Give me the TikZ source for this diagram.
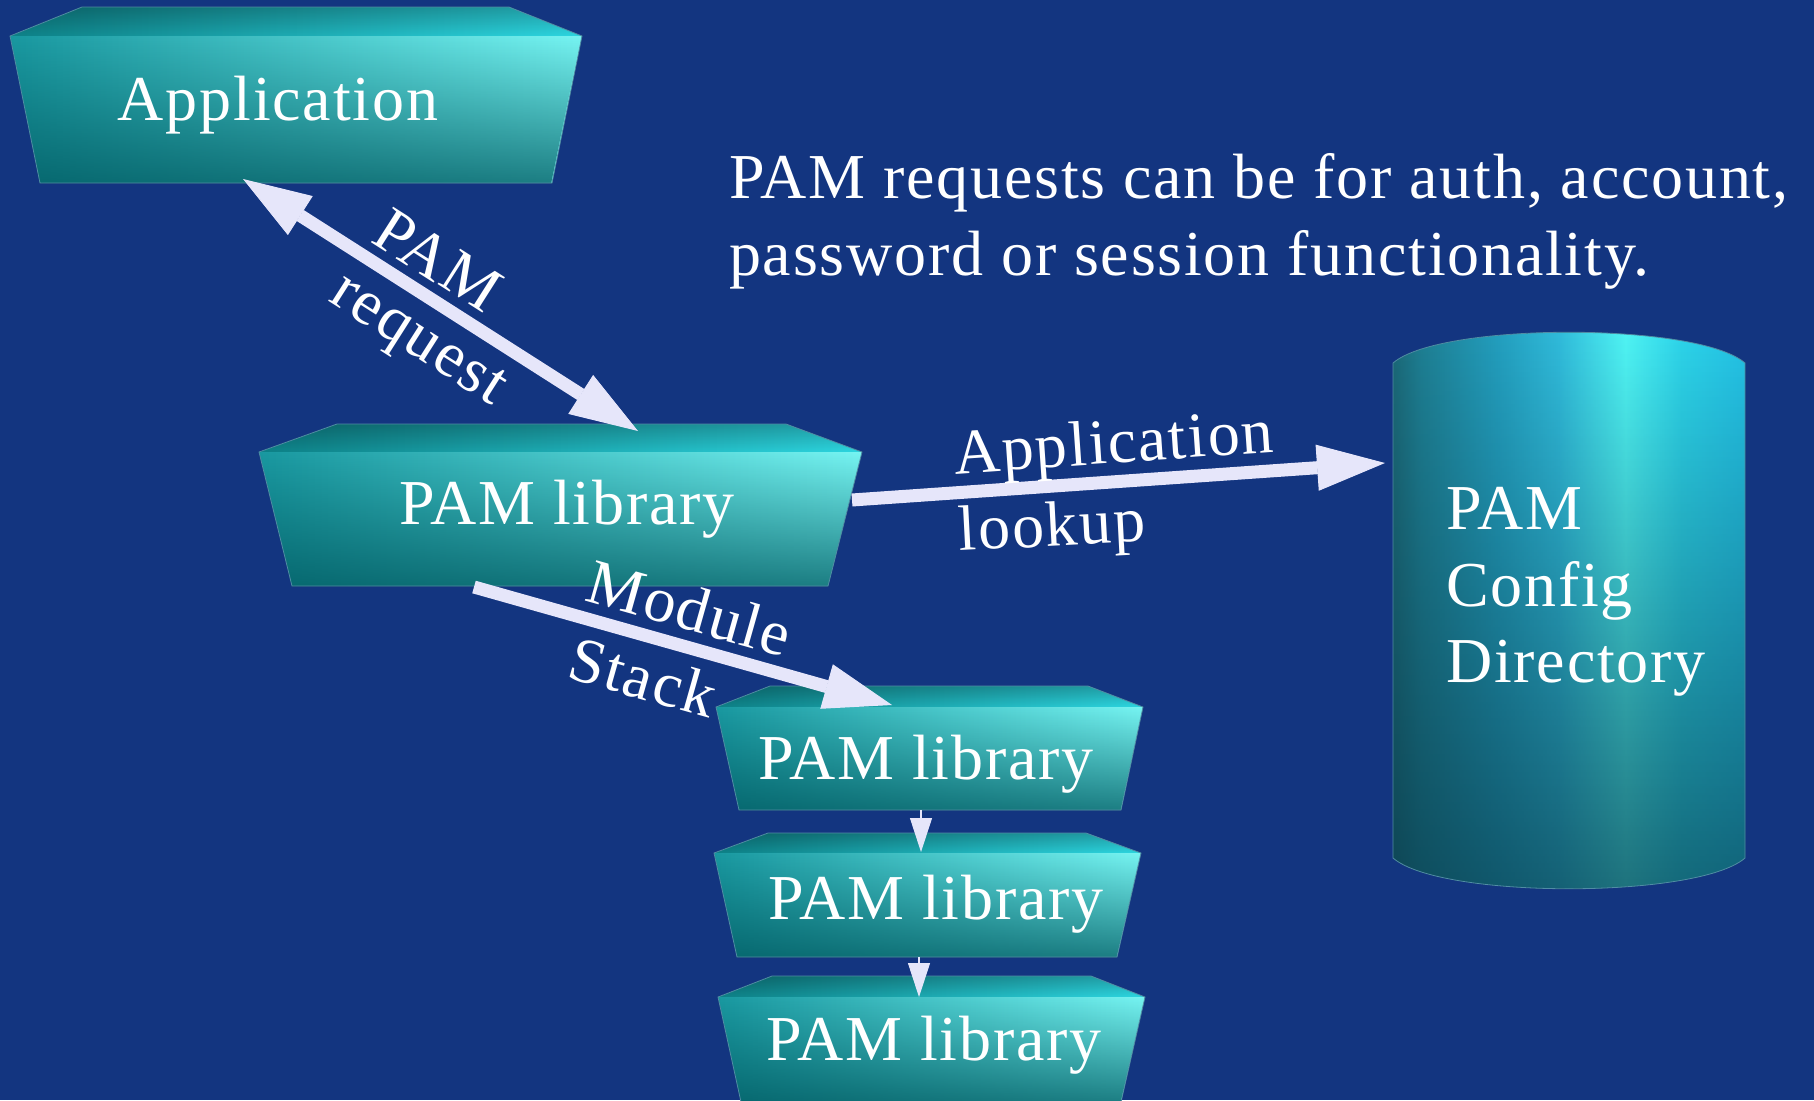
\documentclass[tikz,border=0pt]{standalone}
\usepackage{fontspec}
\setmainfont{Liberation Serif}[LetterSpace=2.8]
\usetikzlibrary{arrows.meta,fadings,calc}
\definecolor{bg}{RGB}{19,53,128}
\definecolor{lav}{RGB}{230,230,250}
\definecolor{frontL}{RGB}{25,152,160}
\definecolor{frontR}{RGB}{118,244,242}
\definecolor{frontDark}{RGB}{0,88,95}
\definecolor{topL}{RGB}{14,130,136}
\definecolor{topR}{RGB}{45,215,225}
\definecolor{edgec}{RGB}{80,140,165}
\definecolor{cylA}{RGB}{28,105,120}
\definecolor{cylB}{RGB}{30,128,148}
\definecolor{cylC}{RGB}{35,160,192}
\definecolor{cylD}{RGB}{48,188,220}
\definecolor{cylE}{RGB}{80,246,246}
\definecolor{cylF}{RGB}{45,214,236}
\definecolor{cylG}{RGB}{36,196,232}
\definecolor{cylDark}{RGB}{8,55,70}
\pgfdeclarehorizontalshading{cylshade}{100bp}{color(0bp)=(cylA); color(25bp)=(cylA); color(29bp)=(cylB); color(40bp)=(cylC); color(48.5bp)=(cylD); color(58bp)=(cylE); color(66bp)=(cylF); color(75bp)=(cylG); color(100bp)=(cylG)}
\tikzset{
  topface/.style={left color=topL, right color=topR},
  topshade/.style={fill=black, opacity=0.25, path fading=south},
  frontface/.style={left color=frontL, right color=frontR},
  frontshade/.style={fill=frontDark, opacity=0.75, path fading=north},
  edge/.style={draw=edgec, line width=0.8pt},
  boxtext/.style={text=white, font=\fontsize{64}{76}\selectfont, inner sep=0pt},
  lbl/.style={text=white, font=\fontsize{64}{76}\selectfont, inner sep=0pt},
  bigtip/.tip={Triangle[length=68pt,width=46pt,line width=1pt]},
  smalltip/.tip={Triangle[length=34pt,width=22pt,line width=1pt]},
  bigarrow/.style={draw=lav, line width=13pt, -bigtip},
  bigdouble/.style={draw=lav, line width=13pt, bigtip-bigtip},
  smallarrow/.style={draw=lav, line width=1.2pt, -smalltip},
}
\newcommand{\drawprism}[1]{%
  \fill[topface] (#1-sl) -- (#1-tl) -- (#1-tr) -- (#1-sr) -- cycle;
  \fill[topshade] (#1-sl) -- (#1-tl) -- (#1-tr) -- (#1-sr) -- cycle;
  \fill[frontface] (#1-sl) -- (#1-sr) -- (#1-br) -- (#1-bl) -- cycle;
  \fill[frontshade] (#1-sl) -- (#1-sr) -- (#1-br) -- (#1-bl) -- cycle;
  \draw[edge] (#1-sl) -- (#1-tl) -- (#1-tr) -- (#1-sr) -- (#1-br) -- (#1-bl) -- cycle;
}
\begin{document}
\begin{tikzpicture}[x=1pt,y=-1pt]
\useasboundingbox (0,0) rectangle (1814,1100);
\fill[bg] (0,0) rectangle (1814,1100);
% Application box
\coordinate (app-tl) at (82,7);   \coordinate (app-tr) at (509,7);
\coordinate (app-sl) at (10,36);  \coordinate (app-sr) at (582,36);
\coordinate (app-bl) at (40,183); \coordinate (app-br) at (552,183);
\drawprism{app}
\node[boxtext, anchor=base] (app) at (278,120) {Application};
% main PAM library
\coordinate (lib-tl) at (337,424);  \coordinate (lib-tr) at (786,424);
\coordinate (lib-sl) at (259,452);  \coordinate (lib-sr) at (862,452);
\coordinate (lib-bl) at (292,586);  \coordinate (lib-br) at (828,586);
\drawprism{lib}
\node[boxtext, anchor=base] (lib) at (567,524) {PAM library};
% stack 1
\coordinate (sa-tl) at (770,686);  \coordinate (sa-tr) at (1088,686);
\coordinate (sa-sl) at (716,707);  \coordinate (sa-sr) at (1143,707);
\coordinate (sa-bl) at (739,810);  \coordinate (sa-br) at (1121,810);
\drawprism{sa}
\node[boxtext, anchor=base] (sa) at (926,779) {PAM library};
% stack 2
\coordinate (sb-tl) at (768,833);  \coordinate (sb-tr) at (1086,833);
\coordinate (sb-sl) at (714,853);  \coordinate (sb-sr) at (1141,853);
\coordinate (sb-bl) at (737,957);  \coordinate (sb-br) at (1117,957);
\drawprism{sb}
\node[boxtext, anchor=base] (sb) at (936,919) {PAM library};
% stack 3
\coordinate (sc-tl) at (772,976);  \coordinate (sc-tr) at (1091,976);
\coordinate (sc-sl) at (718,997);  \coordinate (sc-sr) at (1145,997);
\coordinate (sc-bl) at (741,1102); \coordinate (sc-br) at (1121,1102);
\drawprism{sc}
\node[boxtext, anchor=base] (sc) at (934,1060) {PAM library};
% cylinder
\fill[shading=cylshade] (1393,363) .. controls (1440,322) and (1698,322) .. (1745,363) -- (1745,858) .. controls (1698,899) and (1440,899) .. (1393,858) -- cycle;
\fill[cylDark, opacity=0.7, path fading=north] (1393,363) .. controls (1440,322) and (1698,322) .. (1745,363) -- (1745,858) .. controls (1698,899) and (1440,899) .. (1393,858) -- cycle;
\draw[edge] (1393,363) .. controls (1440,322) and (1698,322) .. (1745,363) -- (1745,858) .. controls (1698,899) and (1440,899) .. (1393,858) -- cycle;
\node[boxtext, anchor=base west] (cyl1) at (1446,529) {PAM};
\node[boxtext, anchor=base west] (cyl2) at (1446,606) {Config};
\node[boxtext, anchor=base west] (cyl3) at (1446,682) {Directory};
% note text
\node[lbl, anchor=base west] (note1) at (729,198) {PAM requests can be for auth, account,};
\node[lbl, anchor=base west] (note2) at (729,275) {password or session functionality.};
% connector end points
\coordinate (app-a) at (243,179);
\coordinate (lib-a) at (638,431);
\coordinate (lib-b) at (852,500);
\coordinate (cyl-a) at (1385,463);
\coordinate (lib-c) at (474,587);
\coordinate (sa-a) at (892,705);
\coordinate (sa-b) at (921,810);
\coordinate (sb-a) at (921,852);
\coordinate (sb-b) at (919,957);
\coordinate (sc-a) at (919,997);
% connectors
\draw[bigdouble] (app-a) -- (lib-a);
\draw[bigarrow] (lib-b) -- (cyl-a);
\draw[bigarrow] (lib-c) -- (sa-a);
\draw[smallarrow] (sa-b) -- (sb-a);
\draw[smallarrow] (sb-b) -- (sc-a);
% connector labels
\node[lbl, rotate=-32.5] (pam) at (438,260) {PAM};
\node[lbl, rotate=-32.5] (req) at (416,344) {request};
\node[lbl, rotate=4, anchor=base] (appl) at (1115,463) {Application};
\node[lbl, rotate=3, anchor=base] (look) at (1053,546) {lookup};
\node[lbl, rotate=-15.8] (mod) at (690,608) {Module};
\node[lbl, rotate=-15.8] (stk) at (643,677) {Stack};
\end{tikzpicture}
\end{document}
